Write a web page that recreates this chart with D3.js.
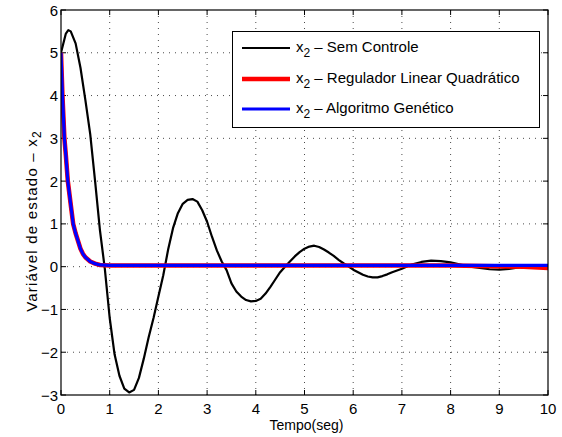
<!DOCTYPE html>
<html><head><meta charset="utf-8">
<script src="https://cdn.jsdelivr.net/npm/d3@7"></script>
<style>
body{margin:0;background:#fff;}
text{font-family:"Liberation Sans",Arial,Helvetica,sans-serif;}
</style></head>
<body><svg id="c" width="562" height="437"></svg>
<script>
const xTicks=[0,1,2,3,4,5,6,7,8,9,10];
const yTicks=[-3,-2,-1,0,1,2,3,4,5,6];
const semT=[0,0.1,0.15,0.2,0.3,0.4,0.5,0.6,0.7,0.8,0.9,1.0,1.1,1.2,1.3,1.4,1.5,1.6,1.7,1.8,1.9,2.0,2.1,2.2,2.3,2.4,2.5,2.6,2.7,2.8,2.9,3.0,3.1,3.2,3.3,3.4,3.5,3.6,3.7,3.8,3.9,4.0,4.1,4.2,4.3,4.4,4.5,4.6,4.7,4.8,4.9,5.0,5.1,5.2,5.3,5.4,5.5,5.6,5.7,5.8,5.9,6.0,6.1,6.2,6.3,6.4,6.5,6.6,6.7,6.8,6.9,7.0,7.2,7.4,7.6,7.8,8.0,8.2,8.4,8.6,8.8,9.0,9.2,9.4,9.6,10];
const semV=[5,5.45,5.53,5.5,5.22,4.65,3.9,3.1,2.0,0.85,-0.05,-1.2,-2.05,-2.55,-2.85,-2.94,-2.88,-2.6,-2.15,-1.65,-1.2,-0.7,-0.2,0.4,0.9,1.25,1.47,1.56,1.58,1.52,1.32,1.05,0.7,0.38,0.12,-0.08,-0.39,-0.58,-0.7,-0.78,-0.81,-0.8,-0.75,-0.63,-0.47,-0.3,-0.13,0.0,0.12,0.24,0.34,0.42,0.47,0.49,0.46,0.4,0.33,0.25,0.16,0.08,0.01,-0.07,-0.13,-0.19,-0.23,-0.25,-0.25,-0.22,-0.18,-0.13,-0.09,-0.05,0.05,0.11,0.14,0.13,0.10,0.05,0.0,-0.03,-0.06,-0.07,-0.05,-0.02,0.01,0.03];
const lqrT=[0,0.03,0.07,0.1,0.14,0.2,0.25,0.3,0.4,0.45,0.5,0.6,0.7,0.8,1.0,2,4,6,8,9.5,10];
const lqrV=[5,4,3,2.6,2,1.45,1,0.78,0.42,0.3,0.22,0.12,0.07,0.04,0.03,0.03,0.03,0.03,0.03,0.0,-0.03];
const agT=[0,0.03,0.07,0.1,0.14,0.2,0.25,0.3,0.4,0.45,0.5,0.6,0.7,0.8,1.0,2,4,6,8,10];
const agV=[5,4,3,2.6,2,1.45,1,0.78,0.42,0.3,0.22,0.12,0.07,0.04,0.03,0.03,0.03,0.03,0.03,0.03];
const legendLabels=[" – Sem Controle"," – Regulador Linear Quadrático"," – Algoritmo Genético"];

const svg=d3.select("#c");
const L=61,R=548,T=10,B=395;
const x=d3.scaleLinear().domain([0,10]).range([L,R]);
const y=d3.scaleLinear().domain([-3,6]).range([B,T]);
const g=svg.append("g");
// grid
g.selectAll(".gx").data(xTicks.slice(1,-1)).enter().append("line")
 .attr("x1",d=>x(d)).attr("x2",d=>x(d)).attr("y1",T).attr("y2",B)
 .attr("stroke","#000").attr("stroke-width",1).attr("stroke-dasharray","1,5").attr("opacity",0.7);
g.selectAll(".gy").data(yTicks.slice(1,-1)).enter().append("line")
 .attr("y1",d=>y(d)).attr("y2",d=>y(d)).attr("x1",L).attr("x2",R)
 .attr("stroke","#000").attr("stroke-width",1).attr("stroke-dasharray","1,5").attr("opacity",0.7);
// ticks inward
const tl=5;
xTicks.forEach(d=>{
 g.append("line").attr("x1",x(d)).attr("x2",x(d)).attr("y1",B).attr("y2",B-tl).attr("stroke","#000");
 g.append("line").attr("x1",x(d)).attr("x2",x(d)).attr("y1",T).attr("y2",T+tl).attr("stroke","#000");
});
yTicks.forEach(d=>{
 g.append("line").attr("y1",y(d)).attr("y2",y(d)).attr("x1",L).attr("x2",L+tl).attr("stroke","#000");
 g.append("line").attr("y1",y(d)).attr("y2",y(d)).attr("x1",R).attr("x2",R-tl).attr("stroke","#000");
});
const line=d3.line().x(d=>x(d[0])).y(d=>y(d[1]));
const clip=svg.append("clipPath").attr("id","cp").append("rect").attr("x",L).attr("y",T).attr("width",R-L).attr("height",B-T);
const pg=svg.append("g").attr("clip-path","url(#cp)");
pg.append("path").datum(semT.map((t,i)=>[t,semV[i]])).attr("d",line).attr("fill","none").attr("stroke","#000").attr("stroke-width",2.2).attr("stroke-linejoin","round");
pg.append("path").datum(lqrT.map((t,i)=>[t,lqrV[i]])).attr("d",line).attr("fill","none").attr("stroke","#ff0000").attr("stroke-width",4.5).attr("stroke-linejoin","round");
pg.append("path").datum(agT.map((t,i)=>[t,agV[i]])).attr("d",line).attr("fill","none").attr("stroke","#0000ff").attr("stroke-width",3.2).attr("stroke-linejoin","round");
// box
svg.append("rect").attr("x",L).attr("y",T).attr("width",R-L).attr("height",B-T).attr("fill","none").attr("stroke","#000").attr("stroke-width",1.2);
// tick labels
svg.selectAll(".xl").data(xTicks).enter().append("text").attr("x",d=>x(d)).attr("y",B+19).attr("text-anchor","middle").attr("font-size",15).text(d=>d);
svg.selectAll(".yl").data(yTicks).enter().append("text").attr("x",L-3).attr("y",d=>y(d)+5.5).attr("text-anchor","end").attr("font-size",15).text(d=>d<0?"\u2212"+(-d):d);
// axis labels
svg.append("text").attr("x",(L+R)/2+2).attr("y",430).attr("text-anchor","middle").attr("font-size",14).text("Tempo(seg)");
const yl=svg.append("text").attr("transform",`translate(37,221) rotate(-90)`).attr("text-anchor","middle").attr("font-size",15).attr("letter-spacing",1.2);
yl.append("tspan").text("Variável de estado – x");
yl.append("tspan").attr("dy",4).attr("font-size",12).text("2");
// legend
const lg=svg.append("g");
lg.append("rect").attr("x",232.5).attr("y",31.5).attr("width",307).attr("height",96).attr("fill","#fff").attr("stroke","#000").attr("stroke-width",1);
const cols=["#000","#ff0000","#0000ff"],wds=[2.2,4.5,3.2],ly=[48,79,109];
legendLabels.forEach((s,i)=>{
 lg.append("line").attr("x1",242).attr("x2",290).attr("y1",ly[i]).attr("y2",ly[i]).attr("stroke",cols[i]).attr("stroke-width",wds[i]);
 const t=lg.append("text").attr("x",296).attr("y",ly[i]+4).attr("font-size",15);
 t.append("tspan").text("x");
 t.append("tspan").attr("dy",5).attr("font-size",12).text("2");
 t.append("tspan").attr("dy",-5).text(s);
});
</script></body></html>
